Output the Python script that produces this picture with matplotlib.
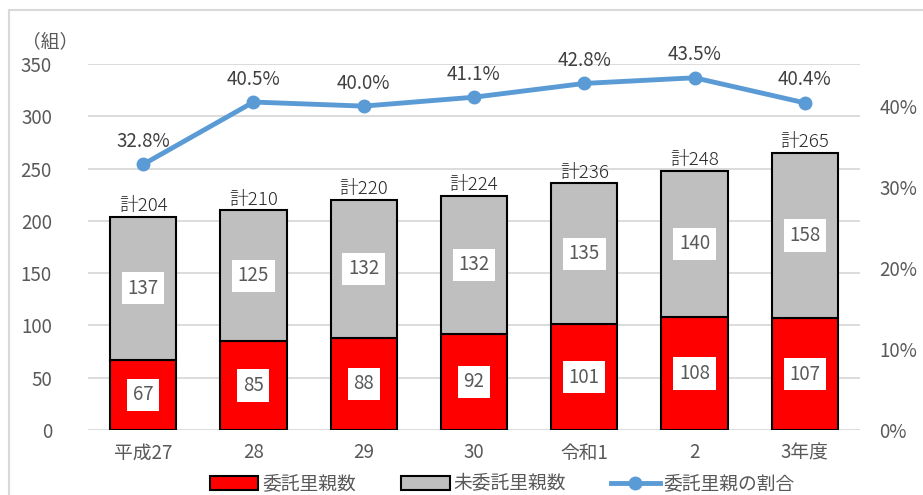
import numpy as np
import matplotlib
matplotlib.use('Agg')
import matplotlib.pyplot as plt
from matplotlib.patches import Rectangle

plt.rcParams['font.family'] = ['Noto Sans CJK JP', 'DejaVu Sans']

years = ['平成27', '28', '29', '30', '令和1', '2', '3年度']
itaku = [67, 85, 88, 92, 101, 108, 107]
mi_itaku = [137, 125, 132, 132, 135, 140, 158]
ratio = [32.8, 40.5, 40.0, 41.1, 42.8, 43.5, 40.4]

fig = plt.figure(figsize=(9.23, 4.95), dpi=100)
fig.patches.append(Rectangle((9/923, -0.05), 1.0, 1 - 10/495 + 0.05, transform=fig.transFigure,
                             fill=False, edgecolor='#d9d9d9', linewidth=1.5))
ax = fig.add_axes([88/923, 1 - 430/495, (860 - 88)/923, (430 - 64)/495])

x = np.arange(len(years))
totals = [a + b for a, b in zip(itaku, mi_itaku)]
grey = '#595959'
fs = 13.5

ax.bar(x, itaku, width=0.6, color='#ff0000', edgecolor='black', linewidth=1.5, label='委託里親数', zorder=2)
ax.bar(x, mi_itaku, width=0.6, bottom=itaku, color='#bfbfbf', edgecolor='black', linewidth=1.5,
       label='未委託里親数', zorder=2)

box = dict(boxstyle='square,pad=0.3', facecolor='white', edgecolor='none')
for i in range(len(x)):
    ax.text(x[i], itaku[i] / 2, str(itaku[i]), ha='center', va='center', fontsize=fs, color=grey, bbox=box, zorder=3)
    ax.text(x[i], itaku[i] + mi_itaku[i] / 2, str(mi_itaku[i]), ha='center', va='center', fontsize=fs,
            color=grey, bbox=box, zorder=3)
    ax.text(x[i], totals[i] + 1.5, '計' + str(totals[i]), ha='center', va='bottom', fontsize=fs,
            color='#262626', fontweight='light', zorder=3)

ax.set_xlim(-0.5, len(x) - 0.5)
ax.set_ylim(0, 350)
ax.set_yticks(np.arange(0, 351, 50))
ax.set_xticks(x)
ax.set_xticklabels(years)
ax.grid(axis='y', color='#d9d9d9', linewidth=1.3, zorder=0)
ax.set_axisbelow(True)
for s in ax.spines.values():
    s.set_visible(False)
ax.tick_params(length=0, labelsize=fs, labelcolor=grey)
ax.tick_params(axis='x', pad=9)
ax.tick_params(axis='y', pad=26)
ax.text(-0.085, 1.06, '（組）', transform=ax.transAxes, fontsize=fs, color=grey, ha='left', va='center')

ax2 = ax.twinx()
ax2.plot(x, np.array(ratio) / 100, color='#5b9bd5', linewidth=3.5, marker='o', markersize=9,
         label='委託里親の割合', zorder=4)
ax2.set_ylim(0, 0.452)
ax2.set_yticks([0, 0.1, 0.2, 0.3, 0.4])
ax2.set_yticklabels(['0%', '10%', '20%', '30%', '40%'])
for s in ax2.spines.values():
    s.set_visible(False)
ax2.tick_params(length=0, labelsize=fs, labelcolor=grey, pad=14)
for i in range(len(x)):
    ax2.annotate('%.1f%%' % ratio[i], (x[i], ratio[i] / 100), xytext=(0, 9), textcoords='offset points',
                 ha='center', va='bottom', fontsize=fs, color='#404040')

h1, l1 = ax.get_legend_handles_labels()
h2, l2 = ax2.get_legend_handles_labels()
fig.legend(h1 + h2, l1 + l2, loc='center', bbox_to_anchor=(502/923, 1 - 484/495), ncol=3,
           frameon=False, fontsize=fs, handlelength=2.6, handleheight=0.8, columnspacing=2.4,
           handletextpad=0.2, labelcolor=grey)

fig.savefig('out.png', dpi=100)
